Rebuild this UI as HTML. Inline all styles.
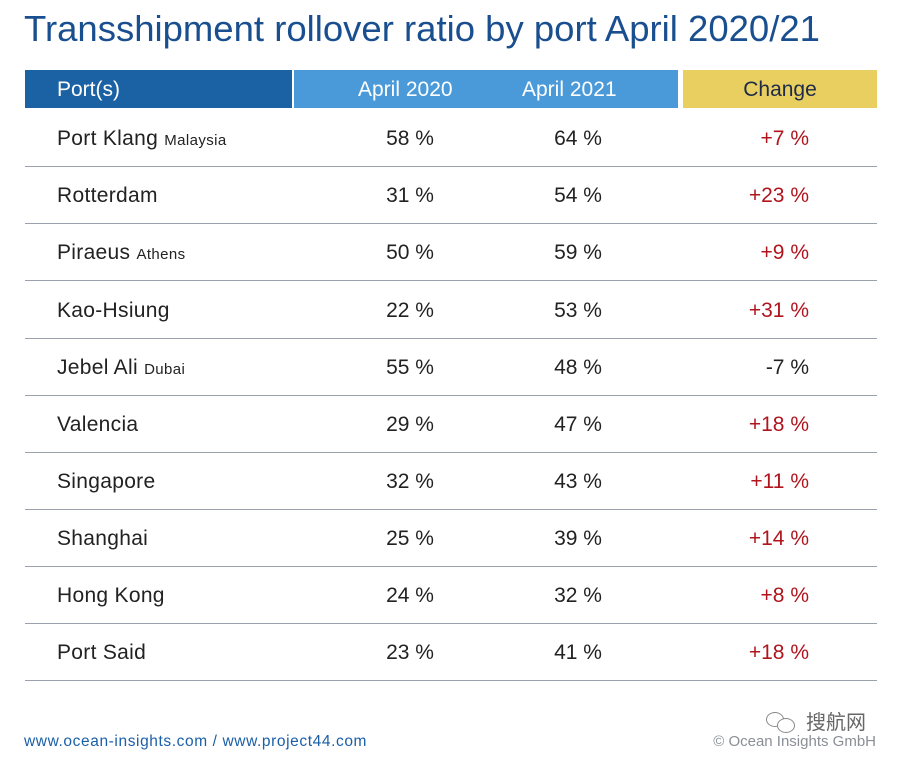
<!DOCTYPE html>
<html><head><meta charset="utf-8"><style>
body{margin:0;width:900px;height:763px;background:#fff;font-family:"Liberation Sans",sans-serif;position:relative;overflow:hidden}
.t{position:absolute;left:24px;top:8px;font-size:36.5px;color:#1a4f8f;white-space:nowrap}
.h{position:absolute;top:70px;height:38px;line-height:40px;font-size:21px;color:#fff}
.r{position:absolute;left:25px;width:852px;height:57px;border-bottom:1.5px solid #9aa3ad;font-size:21px;color:#222}
.r span{position:absolute;top:2px;line-height:56px}
.n{left:32px;letter-spacing:0.3px}.n small{font-size:15px;letter-spacing:0.4px}
.a{left:340px;width:90px;text-align:center}
.b{left:508px;width:90px;text-align:center}
.c{right:68px;color:#b0141c}
.f{position:absolute;top:733px;font-size:15px}
</style></head><body>
<div class="t">Transshipment rollover ratio by port April 2020/21</div>
<div class="h" style="left:25px;width:267px;background:#1b62a4;padding-left:32px;box-sizing:border-box">Port(s)</div>
<div class="h" style="left:294px;width:384px;background:#4a9ada"><span style="position:absolute;left:64px">April 2020</span><span style="position:absolute;left:228px">April 2021</span></div>
<div class="h" style="left:683px;width:194px;background:#e8cf60;color:#1e2a4a;text-align:center">Change</div>
<div class="r" style="top:109px"><span class="n">Port Klang <small>Malaysia</small></span><span class="a">58 %</span><span class="b">64 %</span><span class="c">+7 %</span></div>
<div class="r" style="top:166px"><span class="n">Rotterdam</span><span class="a">31 %</span><span class="b">54 %</span><span class="c">+23 %</span></div>
<div class="r" style="top:223px"><span class="n">Piraeus <small>Athens</small></span><span class="a">50 %</span><span class="b">59 %</span><span class="c">+9 %</span></div>
<div class="r" style="top:281px"><span class="n">Kao-Hsiung</span><span class="a">22 %</span><span class="b">53 %</span><span class="c">+31 %</span></div>
<div class="r" style="top:338px"><span class="n">Jebel Ali <small>Dubai</small></span><span class="a">55 %</span><span class="b">48 %</span><span class="c" style="color:#222">-7 %</span></div>
<div class="r" style="top:395px"><span class="n">Valencia</span><span class="a">29 %</span><span class="b">47 %</span><span class="c">+18 %</span></div>
<div class="r" style="top:452px"><span class="n">Singapore</span><span class="a">32 %</span><span class="b">43 %</span><span class="c">+11 %</span></div>
<div class="r" style="top:509px"><span class="n">Shanghai</span><span class="a">25 %</span><span class="b">39 %</span><span class="c">+14 %</span></div>
<div class="r" style="top:566px"><span class="n">Hong Kong</span><span class="a">24 %</span><span class="b">32 %</span><span class="c">+8 %</span></div>
<div class="r" style="top:623px"><span class="n">Port Said</span><span class="a">23 %</span><span class="b">41 %</span><span class="c">+18 %</span></div>
<div class="f" style="left:24px;color:#1a5fa8;font-size:15.5px;letter-spacing:0.6px">www.ocean-insights.com / www.project44.com</div>
<div class="f" style="right:24px;color:#8a8f96">© Ocean Insights GmbH</div>
<div style="position:absolute;left:806px;top:706px;font-size:20px;color:#666;font-family:'Liberation Sans','Noto Sans CJK SC',sans-serif">搜航网</div>
<div style="position:absolute;left:766px;top:712px;width:16px;height:13px;border:1.5px solid #888;border-radius:50%"></div>
<div style="position:absolute;left:777px;top:718px;width:16px;height:13px;border:1.5px solid #888;border-radius:50%;background:#fff"></div>
</body></html>
